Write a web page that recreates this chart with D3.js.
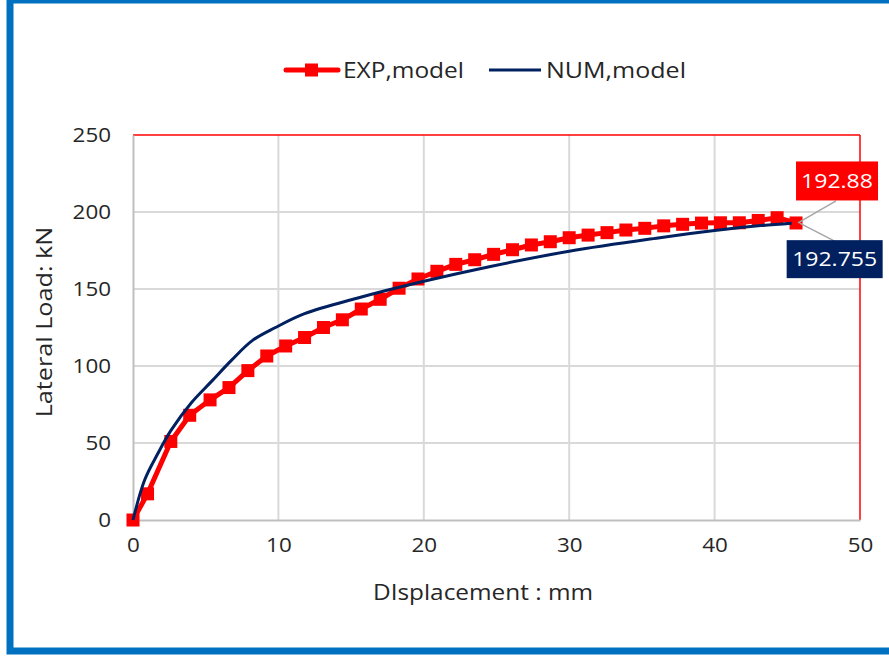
<!DOCTYPE html>
<html><head><meta charset="utf-8">
<script src="https://cdn.jsdelivr.net/npm/d3@7"></script>
<style>
html,body{margin:0;padding:0;background:#fff;}
svg text{font-family:"Open Sans","Noto Sans",sans-serif;}
</style></head>
<body><svg id="c" width="889" height="656"></svg>
<script>
// ---- data ----
const expDisp = [0,1.0,2.6,3.9,5.3,6.6,7.9,9.2,10.5,11.8,13.1,14.4,15.7,17.0,18.3,19.6,20.9,22.2,23.5,24.8,26.1,27.4,28.7,30.0,31.3,32.6,33.9,35.2,36.5,37.8,39.1,40.4,41.7,43.0,44.3,45.6];
const expLoad = [0,17,51,68,78,86,97,106.5,113,118.5,125,130,137,143.3,150.5,156.5,161.5,166,169,172.5,175.5,178.6,180.7,183.3,185,186.6,188.3,189.4,191,192,192.8,193,193,194.5,196.3,192.88];
const numDisp = [0,0.8,1.7,2.6,4.0,5.4,6.8,8.2,9.8,11.8,15.4,20,24.5,30,36,40,43,45.3];
const numLoad = [0,26,43,58,76,90,104,116.5,125,134,144,155,164.5,174.5,183,188,191,192.755];
const xTicks = [0,10,20,30,40,50];
const yTicks = [0,50,100,150,200,250];
const seriesNames = ["EXP,model","NUM,model"];
const endLabels = ["192.88","192.755"];
const xTitle = "DIsplacement : mm";
const yTitle = "Lateral Load: kN";

const RED = "#FF0000", NAVY = "#002060", GRID = "#D9D9D9", AXIS = "#BFBFBF", TXT = "#262626";
const svg = d3.select("#c");

function stretch(sel, f){
  sel.each(function(){
    const w = this.getComputedTextLength();
    d3.select(this).attr("textLength", w*f).attr("lengthAdjust","spacingAndGlyphs");
  });
  return sel;
}

// outer frame
svg.append("rect").attr("x",10).attr("y",0).attr("width",890).attr("height",651)
  .attr("fill","#fff").attr("stroke","#0070C0").attr("stroke-width",7);

const L = 133, R = 860, T = 135, B = 520;
const x = d3.scaleLinear().domain([0,50]).range([L,R]);
const y = d3.scaleLinear().domain([0,250]).range([B,T]);

// gridlines
const g = svg.append("g");
g.selectAll(".vg").data(xTicks.slice(1,-1)).join("line")
  .attr("x1",d=>x(d)).attr("x2",d=>x(d)).attr("y1",T).attr("y2",B)
  .attr("stroke",GRID).attr("stroke-width",2);
g.selectAll(".hg").data(yTicks.slice(1,-1)).join("line")
  .attr("x1",L).attr("x2",R).attr("y1",d=>y(d)).attr("y2",d=>y(d))
  .attr("stroke",GRID).attr("stroke-width",2);

// plot border: red top/right
g.append("line").attr("x1",L).attr("x2",R).attr("y1",T).attr("y2",T).attr("stroke",RED).attr("stroke-width",1.5);
g.append("line").attr("x1",R).attr("x2",R).attr("y1",T).attr("y2",B).attr("stroke",RED).attr("stroke-width",1.5);

// axes
const xAxis = svg.append("g").attr("transform",`translate(0,${B})`)
  .call(d3.axisBottom(x).tickValues(xTicks).tickSize(0).tickPadding(18));
const yAxis = svg.append("g").attr("transform",`translate(${L},0)`)
  .call(d3.axisLeft(y).tickValues(yTicks).tickSize(0).tickPadding(22));
[xAxis,yAxis].forEach(a=>{
  a.select(".domain").attr("stroke",AXIS).attr("stroke-width",2);
  a.selectAll("text").attr("font-size",20).attr("fill",TXT)
   .attr("font-family","'Open Sans',sans-serif");
  stretch(a.selectAll("text"),1.12);
});
xAxis.selectAll("text").attr("dy","0.71em");

// titles
stretch(svg.append("text").attr("x",483).attr("y",600).attr("text-anchor","middle")
  .attr("font-size",21).attr("fill",TXT).text(xTitle),1.16);
stretch(svg.append("text").attr("transform","translate(52,322) rotate(-90)").attr("text-anchor","middle")
  .attr("font-size",21).attr("fill",TXT).text(yTitle),1.2);

// lines
const expData = expDisp.map((d,i)=>[d,expLoad[i]]);
const numData = numDisp.map((d,i)=>[d,numLoad[i]]);
svg.append("path").datum(expData)
  .attr("d",d3.line().x(d=>x(d[0])).y(d=>y(d[1])))
  .attr("fill","none").attr("stroke",RED).attr("stroke-width",5).attr("stroke-linejoin","round");
svg.selectAll(".mk").data(expData).join("rect")
  .attr("x",d=>x(d[0])-6.5).attr("y",d=>y(d[1])-6.5).attr("width",13).attr("height",13)
  .attr("fill",RED);
svg.append("path").datum(numData)
  .attr("d",d3.line().curve(d3.curveCatmullRom.alpha(0.5)).x(d=>x(d[0])).y(d=>y(d[1])))
  .attr("fill","none").attr("stroke",NAVY).attr("stroke-width",3);

// end data labels
const ex = expData[expData.length-1], nx = numData[numData.length-1];
svg.append("line").attr("x1",x(ex[0])+2).attr("y1",y(ex[1])).attr("x2",x(ex[0])+40).attr("y2",y(ex[1])-22)
  .attr("stroke","#A6A6A6").attr("stroke-width",1.5);
svg.append("line").attr("x1",x(nx[0])+8).attr("y1",y(nx[1])).attr("x2",x(nx[0])+43).attr("y2",y(nx[1])+18)
  .attr("stroke","#A6A6A6").attr("stroke-width",1.5);
function box(cx, cy, w, h, fill, txt){
  svg.append("rect").attr("x",cx-w/2).attr("y",cy-h/2).attr("width",w).attr("height",h).attr("fill",fill);
  stretch(svg.append("text").attr("x",cx).attr("y",cy).attr("dy","0.36em").attr("text-anchor","middle")
    .attr("font-size",20).attr("fill","#fff").text(txt),1.15);
}
box(x(ex[0])+41, y(ex[1])-42, 82, 39, RED, endLabels[0]);
box(x(nx[0])+43, y(nx[1])+36, 96, 38, NAVY, endLabels[1]);

// legend
const lg = svg.append("g");
lg.append("line").attr("x1",286).attr("x2",338).attr("y1",70).attr("y2",70)
  .attr("stroke",RED).attr("stroke-width",5).attr("stroke-linecap","round");
lg.append("rect").attr("x",305).attr("y",63.5).attr("width",13).attr("height",13).attr("fill",RED);
lg.append("text").attr("x",343).attr("y",70).attr("dy","0.36em").attr("font-size",21)
  .attr("fill",TXT).attr("textLength",121).attr("lengthAdjust","spacingAndGlyphs").text(seriesNames[0]);
lg.append("line").attr("x1",489).attr("x2",541).attr("y1",70).attr("y2",70)
  .attr("stroke",NAVY).attr("stroke-width",3);
lg.append("text").attr("x",546).attr("y",70).attr("dy","0.36em").attr("font-size",21)
  .attr("fill",TXT).attr("textLength",140).attr("lengthAdjust","spacingAndGlyphs").text(seriesNames[1]);
</script></body></html>
